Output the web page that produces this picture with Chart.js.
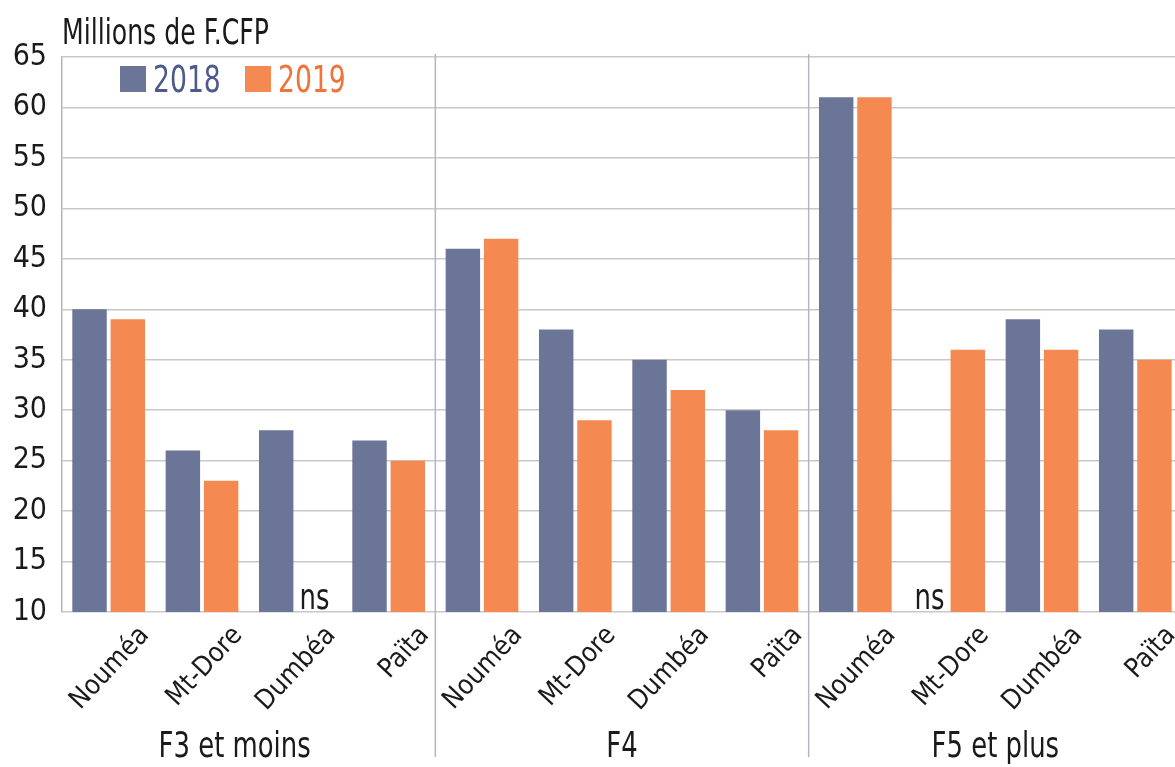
<!DOCTYPE html>
<html>
<head>
<meta charset="utf-8">
<script src="https://cdn.jsdelivr.net/npm/chart.js@4.4.1/dist/chart.umd.min.js"></script>
<style>
  html, body { margin: 0; padding: 0; background: #fff; overflow: hidden; }
  #wrap { width: 1175px; height: 767px; overflow: hidden; }
</style>
</head>
<body>
<div id="wrap"><canvas id="chart-area" width="1182" height="767"></canvas></div>
<script>
var groups = ['F3 et moins', 'F4', 'F5 et plus'];
var communes = ['Nouméa', 'Mt-Dore', 'Dumbéa', 'Païta',
                'Nouméa', 'Mt-Dore', 'Dumbéa', 'Païta',
                'Nouméa', 'Mt-Dore', 'Dumbéa', 'Païta'];
var values2018 = [40, 26, 28, 27, 46, 38, 35, 30, 61, null, 39, 38];
var values2019 = [39, 23, null, 25, 47, 29, 32, 28, 61, 36, 36, 35];
var seriesLabels = ['2018', '2019'];
var seriesColors = ['#6b7598', '#f48a51'];
var legendTextColors = ['#4d5b8c', '#f0733a'];
var yMin = 10, yMax = 65, yStep = 5;
var unitLabel = 'Millions de F.CFP';
var missingLabel = 'ns';

var FONT = "'DejaVu Sans Condensed', 'Liberation Sans Narrow', sans-serif";
var SQUEEZE = 0.8;

// squeezed text, to get closer to the condensed face of the original
function narrowText(ctx, text, x, y, align) {
  var w = ctx.measureText(text).width * SQUEEZE;
  var left = align === 'center' ? x - w / 2 : x;
  ctx.save();
  ctx.textAlign = 'left';
  ctx.translate(left, y);
  ctx.scale(SQUEEZE, 1);
  ctx.fillText(text, 0, 0);
  ctx.restore();
}

// title, group labels, separators, "ns" marks and legend
var decorations = {
  id: 'decorations',
  beforeDatasetsDraw: function(chart) {
    var ctx = chart.ctx, area = chart.chartArea, x = chart.scales.x;
    var per = communes.length / groups.length;
    ctx.save();
    ctx.strokeStyle = '#b4b6bd';
    ctx.lineWidth = 1.5;
    for (var g = 1; g < groups.length; g++) {
      var sx = (x.getPixelForValue(g * per - 1) + x.getPixelForValue(g * per)) / 2;
      ctx.beginPath();
      ctx.moveTo(sx, area.top - 3);
      ctx.lineTo(sx, chart.height - 10);
      ctx.stroke();
    }
    ctx.restore();
  },
  afterDraw: function(chart) {
    var ctx = chart.ctx, area = chart.chartArea, x = chart.scales.x;
    var per = communes.length / groups.length;
    ctx.save();
    ctx.fillStyle = '#1a1a1a';
    ctx.textBaseline = 'alphabetic';

    ctx.font = '35px ' + FONT;
    narrowText(ctx, unitLabel, area.left, 44, 'left');

    ctx.font = '36px ' + FONT;
    for (var g = 0; g < groups.length; g++) {
      var a = (x.getPixelForValue(g * per) + x.getPixelForValue(g * per - 1)) / 2;
      var b = (x.getPixelForValue((g + 1) * per - 1) + x.getPixelForValue((g + 1) * per)) / 2;
      narrowText(ctx, groups[g], (a + b) / 2 - (g === 0 ? 14 : 0), 757, 'center');
    }

    chart.data.datasets.forEach(function(ds, i) {
      var meta = chart.getDatasetMeta(i);
      ds.data.forEach(function(v, j) {
        if (v === null) {
          narrowText(ctx, missingLabel, meta.data[j].x, area.bottom - 3, 'center');
        }
      });
    });

    ctx.font = '37px ' + FONT;
    var lx = area.left + 58;
    chart.data.datasets.forEach(function(ds, i) {
      ctx.fillStyle = ds.backgroundColor;
      ctx.fillRect(lx, area.top + 9, 26, 26);
      ctx.fillStyle = legendTextColors[i];
      narrowText(ctx, ds.label, lx + 33, area.top + 35, 'left');
      lx += 125;
    });
    ctx.restore();
  }
};

var config = {
  type: 'bar',
  data: {
    labels: communes,
    datasets: [{
      label: seriesLabels[0],
      data: values2018,
      backgroundColor: seriesColors[0],
      categoryPercentage: 0.82,
      barPercentage: 0.9
    }, {
      label: seriesLabels[1],
      data: values2019,
      backgroundColor: seriesColors[1],
      categoryPercentage: 0.82,
      barPercentage: 0.9
    }]
  },
  options: {
    responsive: false,
    animation: false,
    layout: { padding: { top: 57, left: 0, right: 0, bottom: 0 } },
    plugins: {
      legend: { display: false },
      tooltip: { enabled: false }
    },
    scales: {
      x: {
        grid: { display: false },
        border: { display: false },
        afterFit: function(scale) { scale.height = 155; },
        ticks: {
          autoSkip: false,
          minRotation: 47,
          maxRotation: 47,
          padding: 0,
          labelOffset: 36,
          color: '#1a1a1a',
          font: { family: FONT, size: 27 }
        }
      },
      y: {
        min: yMin,
        max: yMax,
        afterFit: function(scale) { scale.width = 62; },
        grid: { color: '#c8c8c8', lineWidth: 1.5, drawTicks: false },
        border: { display: true, color: '#b4b6bd', width: 1.5 },
        ticks: {
          stepSize: yStep,
          padding: 15,
          color: '#1a1a1a',
          font: { family: FONT, size: 30 }
        }
      }
    }
  },
  plugins: [decorations]
};

window.onload = function() {
  var ctx = document.getElementById('chart-area').getContext('2d');
  window.myBar = new Chart(ctx, config);
};
</script>
</body>
</html>
